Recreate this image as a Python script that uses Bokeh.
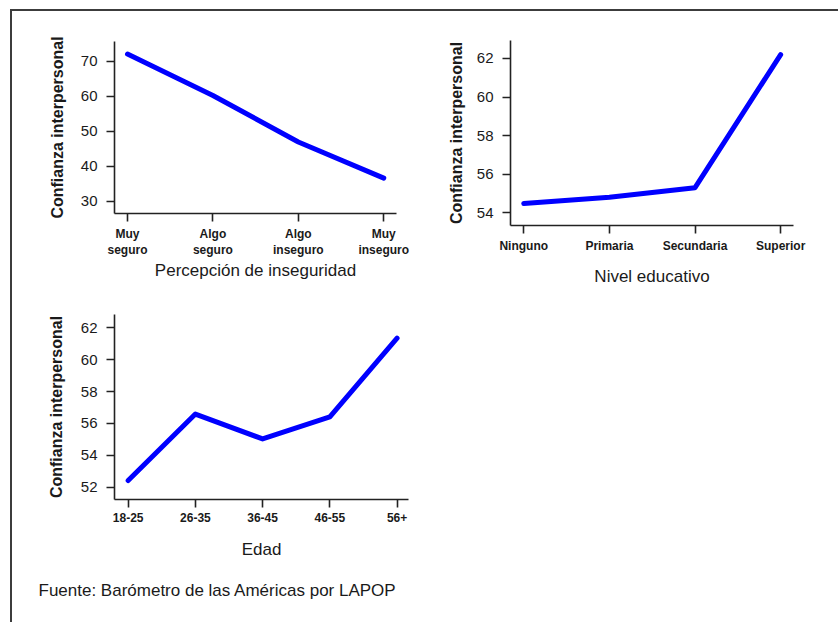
from bokeh.plotting import figure
from bokeh.layouts import row, column
from bokeh.models import FixedTicker, Range1d, Title
from bokeh.embed import file_html
from bokeh.resources import INLINE

# ---- data ----
inseg_labels = ["Muy\nseguro", "Algo\nseguro", "Algo\ninseguro", "Muy\ninseguro"]
inseg_vals = [72.0, 60.2, 46.9, 36.6]
inseg_yticks = [30, 40, 50, 60, 70]

edu_labels = ["Ninguno", "Primaria", "Secundaria", "Superior"]
edu_vals = [54.48, 54.81, 55.30, 62.2]
edu_yticks = [54, 56, 58, 60, 62]

edad_labels = ["18-25", "26-35", "36-45", "46-55", "56+"]
edad_vals = [52.42, 56.59, 55.03, 56.42, 61.35]
edad_yticks = [52, 54, 56, 58, 60, 62]

ytitle = "Confianza interpersonal"
source_text = "Fuente: Barómetro de las Américas por LAPOP"

FONT = "Liberation Sans"
AXC = "#222222"
TXT = "#1a1a1a"


def panel(labels, vals, xr, yr, yticks, w, h, bl, br, bt, bb, xtitle, xstand, ystand):
    p = figure(width=w, height=h, min_border_left=bl, min_border_right=br,
               min_border_top=bt, min_border_bottom=bb,
               x_range=Range1d(*xr), y_range=Range1d(*yr),
               output_backend="svg", toolbar_location=None,
               background_fill_color="white", border_fill_color="white")
    p.outline_line_color = None
    p.grid.visible = False
    xs = list(range(len(labels)))
    p.line(xs, vals, line_color="#0000ff", line_width=5, line_cap="round", line_join="round")

    xa = p.xaxis[0]
    xa.ticker = FixedTicker(ticks=xs)
    xa.major_label_overrides = {i: lab for i, lab in enumerate(labels)}
    xa.axis_line_color = AXC
    xa.axis_line_width = 1.6
    xa.major_tick_line_color = AXC
    xa.major_tick_line_width = 1.6
    xa.major_tick_in = 0
    xa.major_tick_out = 8
    xa.minor_tick_line_color = None
    xa.major_label_text_font = FONT
    xa.major_label_text_font_style = "bold"
    xa.major_label_text_font_size = "12px"
    xa.major_label_text_color = TXT
    xa.major_label_standoff = 5
    xa.axis_label = xtitle
    xa.axis_label_text_font = FONT
    xa.axis_label_text_font_style = "normal"
    xa.axis_label_text_font_size = "17px"
    xa.axis_label_text_color = TXT
    xa.axis_label_standoff = xstand

    ya = p.yaxis[0]
    ya.ticker = FixedTicker(ticks=yticks)
    ya.axis_line_color = AXC
    ya.axis_line_width = 1.6
    ya.major_tick_line_color = AXC
    ya.major_tick_line_width = 1.6
    ya.major_tick_in = 0
    ya.major_tick_out = 8
    ya.minor_tick_line_color = None
    ya.major_label_text_font = FONT
    ya.major_label_text_font_size = "15px"
    ya.major_label_text_color = TXT
    ya.major_label_standoff = 9
    ya.axis_label = ytitle
    ya.axis_label_text_font = FONT
    ya.axis_label_text_font_style = "bold"
    ya.axis_label_text_font_size = "16px"
    ya.axis_label_text_color = TXT
    ya.axis_label_standoff = ystand
    return p


p1 = panel(inseg_labels, inseg_vals, (-0.152, 3.149), (26.5, 75.6), inseg_yticks,
           408, 289, 102, 24, 30, 87, "Percepción de inseguridad", 1, 12)
p2 = panel(edu_labels, edu_vals, (-0.155, 3.15), (53.34, 62.93), edu_yticks,
           418, 289, 90, 45, 29, 75, "Nivel educativo", 11, 9)
p3 = panel(edad_labels, edad_vals, (-0.203, 4.17), (51.23, 62.84), edad_yticks,
           420, 322, 102, 24, 14, 123, "Edad", 15, 13)

src = Title(text=source_text, align="left", offset=-76, standoff=35,
            text_font=FONT, text_font_size="17px", text_font_style="normal",
            text_color=TXT)
p3.add_layout(src, "below")

# each panel wrapped in its own column so that frames are not aligned across the row
layout = column(row(column(p1), column(p2), spacing=0), row(column(p3), spacing=0), spacing=0,
                margin=(9, 0, 0, 10),
                styles={"border-left": "2px solid #3c3c3c", "border-top": "2px solid #3c3c3c",
                        "background-color": "white"})

open("out.html", "w").write(file_html(layout, INLINE))
